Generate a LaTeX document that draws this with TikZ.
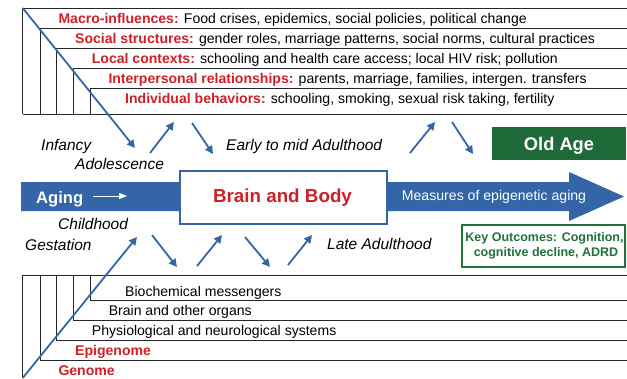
\documentclass[tikz,border=0pt]{standalone}
\usepackage{fontspec}
\setmainfont{Liberation Sans}
\usetikzlibrary{arrows.meta}
\definecolor{agingblue}{RGB}{52,101,166}
\definecolor{labelred}{RGB}{206,32,40}
\definecolor{oldgreen}{RGB}{31,106,57}
\definecolor{keygreen}{RGB}{34,112,60}
\newcommand{\lvlname}[1]{\textcolor{labelred}{\bfseries #1}}

\begin{document}
\begin{tikzpicture}[x=1pt,y=-1pt,
  frame/.style={draw=black!85, line width=1pt},
  rowtext/.style={anchor=base west, inner sep=0pt, font=\fontsize{14.05}{17}\selectfont},
  stagetext/.style={anchor=base west, inner sep=0pt, font=\fontsize{15.5}{18}\selectfont\itshape},
  flow/.style={draw=agingblue, line width=1.8pt, -{Triangle[length=8pt,width=8pt]}},
]
\useasboundingbox (0,0) rectangle (627,378);

% ---- nested context frames (top) ----
\foreach \x/\y in {22.7/8, 40/28, 56.7/48, 73.3/68, 90.7/88}
  \draw[frame] (627,\y) -- (\x,\y) -- (\x,114);
\draw[frame] (22.7,114) -- (627,114);

\node[rowtext] (macro) at (58.3,23) {\lvlname{Macro-influences:} Food crises, epidemics, social policies, political change};
\node[rowtext] (social) at (75,43) {\lvlname{Social structures:} gender roles, marriage patterns, social norms, cultural practices};
\node[rowtext] (local) at (91.7,63) {\lvlname{Local contexts:} schooling and health care access; local HIV risk; pollution};
\node[rowtext] (inter) at (108.3,83) {\lvlname{Interpersonal relationships:} parents, marriage, families, intergen. transfers};
\node[rowtext] (indiv) at (125,103) {\lvlname{Individual behaviors:} schooling, smoking, sexual risk taking, fertility};

% ---- nested biological frames (bottom) ----
\draw[frame] (22.7,275) -- (627,275);
\draw[frame] (22.7,275) -- (22.7,378);
\foreach \x/\y in {40/360.5, 56.7/340.5, 73.3/320.5, 90.7/300.5}
  \draw[frame] (\x,275) -- (\x,\y) -- (627,\y);

\node[rowtext] (biochem) at (125,296) {Biochemical messengers};
\node[rowtext] (organs) at (108.6,315.7) {Brain and other organs};
\node[rowtext] (physio) at (91.7,335.7) {Physiological and neurological systems};
\node[rowtext] (epi) at (75,355.3) {\lvlname{Epigenome}};
\node[rowtext] (genome) at (58.3,375) {\lvlname{Genome}};

% ---- aging band and arrow ----
\fill[agingblue] (21,182) -- (569,182) -- (569,172) -- (624,196.5)
  -- (569,221) -- (569,211) -- (21,211) -- cycle;
\node[anchor=base west, inner sep=0pt, text=white, font=\fontsize{16.6}{19}\selectfont\bfseries] (aging) at (36,203.3) {Aging};
\coordinate (agingtail) at (93,196);
\coordinate (aginghead) at (127,196);
\draw[white, line width=1pt, -{Triangle[length=8pt,width=6pt]}] (agingtail) -- (aginghead);

\node[draw=agingblue, line width=2pt, fill=white, minimum width=207pt, minimum height=53pt, inner sep=0pt] (brain) at (283.5,197.5) {};
\node[anchor=base, inner sep=0pt, text=labelred, font=\fontsize{18.8}{22}\selectfont\bfseries] (braintext) at (282.5,202.7) {Brain and Body};
\node[anchor=base, inner sep=0pt, text=white, font=\fontsize{14.1}{17}\selectfont] (measures) at (494,200.7) {Measures of epigenetic aging};

% ---- outcome boxes ----
\node[fill=oldgreen, minimum width=134pt, minimum height=33pt, inner sep=0pt] (oldage) at (559,143.5) {};
\node[anchor=base, inner sep=0pt, text=white, font=\fontsize{18.3}{21}\selectfont\bfseries] (oldagetext) at (559,150) {Old Age};

\node[draw=keygreen, line width=1.5pt, fill=white, minimum width=163pt, minimum height=42pt, inner sep=0pt] (keybox) at (543.5,246) {};
\node[anchor=base, inner sep=0pt, text=keygreen, font=\fontsize{12.5}{15}\selectfont\bfseries] (key1) at (544.5,241.7) {Key Outcomes: Cognition,};
\node[anchor=base, inner sep=0pt, text=keygreen, font=\fontsize{12.5}{15}\selectfont\bfseries] (key2) at (546,256.7) {cognitive decline, ADRD};

% ---- life stages ----
\node[stagetext] (infancy) at (41,150) {Infancy};
\node[stagetext] (adolescence) at (75,169.3) {Adolescence};
\node[stagetext] (earlymid) at (226,150) {Early to mid Adulthood};
\node[stagetext] (childhood) at (58,229) {Childhood};
\node[stagetext] (gestation) at (25,250) {Gestation};
\node[stagetext] (lateadult) at (327,249) {Late Adulthood};

% ---- zig-zag flows above the band ----
\coordinate (t0) at (22.7,8);    \coordinate (t1) at (135,148);
\coordinate (t2) at (150,153);   \coordinate (t3) at (174,122);
\coordinate (t4) at (192,123);   \coordinate (t5) at (213,154);
\coordinate (t6) at (410,153);   \coordinate (t7) at (435,122);
\coordinate (t8) at (452,122);   \coordinate (t9) at (473,154);
\draw[flow] (t0) -- (t1);
\draw[flow] (t2) -- (t3);
\draw[flow] (t4) -- (t5);
\draw[flow] (t6) -- (t7);
\draw[flow] (t8) -- (t9);

% ---- zig-zag flows below the band ----
\coordinate (b0) at (22.7,378);  \coordinate (b1) at (137,237);
\coordinate (b2) at (152,235);   \coordinate (b3) at (177,267);
\coordinate (b4) at (197,266);   \coordinate (b5) at (222,235);
\coordinate (b6) at (245,237);   \coordinate (b7) at (270,267);
\coordinate (b8) at (288,265);   \coordinate (b9) at (312,235);
\draw[flow] (b0) -- (b1);
\draw[flow] (b2) -- (b3);
\draw[flow] (b4) -- (b5);
\draw[flow] (b6) -- (b7);
\draw[flow] (b8) -- (b9);
\end{tikzpicture}
\end{document}
